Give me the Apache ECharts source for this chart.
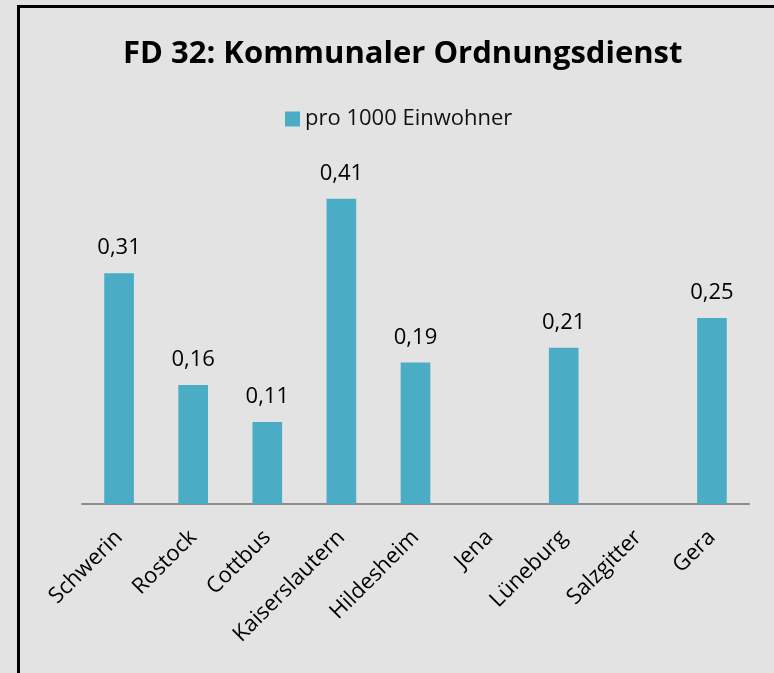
<!DOCTYPE html>
<html>
<head>
    <meta charset="utf-8">
    <title>FD 32</title>
    <script src="https://cdn.jsdelivr.net/npm/echarts@6/dist/echarts.min.js"></script>
    <style>
        html, body { margin: 0; padding: 0; background: #e3e3e3; }
    </style>
</head>
<body>
<div id="main" style="width: 774px;height:673px;"></div>
<script type="text/javascript">
    // Daten aus dem Diagramm
    var staedte = ['Schwerin', 'Rostock', 'Cottbus', 'Kaiserslautern', 'Hildesheim', 'Jena', 'Lüneburg', 'Salzgitter', 'Gera'];
    var proEinwohner = [0.31, 0.16, 0.11, 0.41, 0.19, null, 0.21, null, 0.25];
    var serienName = 'pro 1000 Einwohner';
    var titel = 'FD 32: Kommunaler Ordnungsdienst';

    var myChart = echarts.init(document.getElementById('main'));

    var option = {
        backgroundColor: '#e3e3e3',
        animation: false,
        textStyle: { fontFamily: 'Open Sans' },
        title: {
            text: titel,
            left: 118,
            top: 34,
            textStyle: { fontSize: 31, fontWeight: 'bold', color: '#000', fontFamily: 'Open Sans' }
        },
        legend: {
            data: [serienName],
            top: 103,
            left: 280,
            itemWidth: 15,
            itemHeight: 15,
            itemGap: 7,
            icon: 'rect',
            textStyle: { fontSize: 22, color: '#111' }
        },
        grid: { left: 82, right: 25, top: 169, bottom: 169 },
        xAxis: {
            type: 'category',
            data: staedte,
            axisLine: { lineStyle: { color: '#8c8c8c', width: 2 } },
            axisTick: { show: false },
            axisLabel: { rotate: 45, fontSize: 22, color: '#000', margin: 30, interval: 0 }
        },
        yAxis: {
            type: 'value',
            min: 0,
            max: 0.45,
            show: false
        },
        graphic: [{
            type: 'polyline',
            shape: { points: [[18.5, 673], [18.5, 6.5], [774, 6.5]] },
            style: { stroke: '#000', lineWidth: 3, fill: null }
        }],
        series: [{
            name: serienName,
            type: 'bar',
            data: proEinwohner,
            barWidth: '40%',
            itemStyle: { color: '#4bacc6' },
            label: {
                show: true,
                position: 'top',
                distance: 14,
                fontSize: 22,
                color: '#000',
                formatter: function (p) { return p.value.toFixed(2).replace('.', ','); }
            }
        }]
    };

    myChart.setOption(option);
</script>
</body>
</html>
